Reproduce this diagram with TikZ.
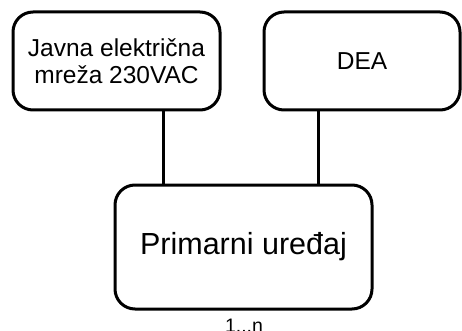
\documentclass[tikz,border=0pt]{standalone}
\usepackage{fontspec}
\setmainfont{Liberation Sans}
\begin{document}
\begin{tikzpicture}[x=1pt,y=-1pt,
  block/.style={draw=black, line width=3pt, rounded corners=20pt,
    fill=white, inner sep=0pt, align=center},
  link/.style={draw=black, line width=3pt}]
  \useasboundingbox (0,0) rectangle (462,331);

  % upper boxes
  \node[block, minimum width=207pt, minimum height=98pt,
        font=\fontsize{24.5}{27}\selectfont] (grid) at (116.5,61)
        {Javna električna\\mreža 230VAC};
  \node[block, minimum width=196pt, minimum height=98pt,
        font=\fontsize{24.5}{27}\selectfont] (dea) at (362,61) {DEA};

  % main device
  \node[block, minimum width=257pt, minimum height=124pt,
        font=\fontsize{30.5}{33}\selectfont] (dev) at (243.5,247)
        {Primarni uređaj};

  % multiplicity label under the device
  \node[anchor=base, inner sep=0pt, font=\fontsize{19.5}{22}\selectfont]
        (mult) at (244,332) {1...n};

  % connectors
  \draw[link] ([xshift=46.5pt]grid.south) -- ([xshift=46.5pt]grid.south |- dev.north);
  \draw[link] ([xshift=-44pt]dea.south) -- ([xshift=-44pt]dea.south |- dev.north);
\end{tikzpicture}
\end{document}
